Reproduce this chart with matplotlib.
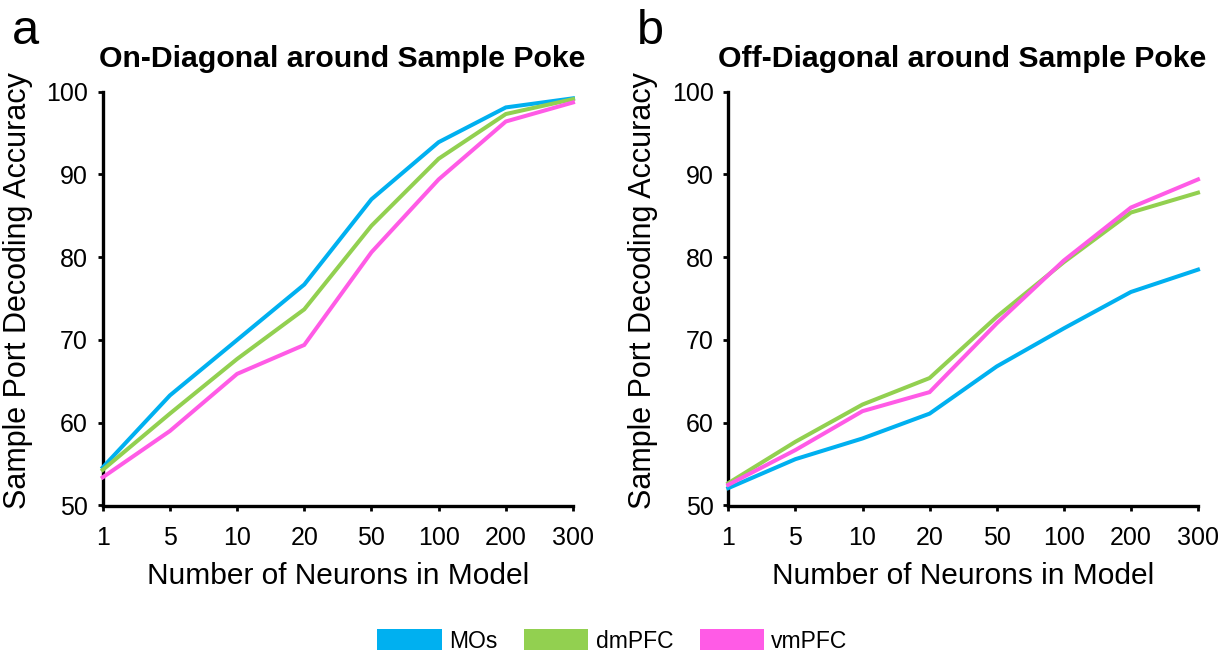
import matplotlib
matplotlib.use("Agg")
import matplotlib.pyplot as plt
from matplotlib.patches import Patch

plt.rcParams['font.family'] = ['Liberation Sans', 'DejaVu Sans']

neurons = ["1", "5", "10", "20", "50", "100", "200", "300"]
regions = ["MOs", "dmPFC", "vmPFC"]
colors = {"MOs": "#00B0F0", "dmPFC": "#92D050", "vmPFC": "#FF5BE6"}

on_mos = [54.6, 63.3, 70.0, 76.7, 87.0, 93.9, 98.1, 99.2]
on_dm = [54.3, 61.1, 67.7, 73.7, 83.8, 91.9, 97.3, 99.1]
on_vm = [53.4, 59.0, 65.9, 69.4, 80.6, 89.4, 96.4, 98.7]

off_mos = [52.1, 55.6, 58.1, 61.1, 66.8, 71.4, 75.8, 78.5]
off_dm = [52.7, 57.7, 62.2, 65.4, 72.8, 79.4, 85.4, 87.8]
off_vm = [52.5, 56.7, 61.4, 63.7, 72.0, 79.6, 86.0, 89.4]

yticks = [50, 60, 70, 80, 90, 100]

W, H = 1225, 653
fig = plt.figure(figsize=(W / 100, H / 100), dpi=100)

def px_axes(x0, x1, ytop, ybot):
    return fig.add_axes([x0 / W, 1 - ybot / H, (x1 - x0) / W, (ybot - ytop) / H])

panels = [
    dict(ax=px_axes(102.7, 573, 91.7, 505.5), data=[on_mos, on_dm, on_vm],
         title="On-Diagonal around Sample Poke", tx=342, letter="a", lx=12),
    dict(ax=px_axes(728.3, 1198, 91.7, 505.5), data=[off_mos, off_dm, off_vm],
         title="Off-Diagonal around Sample Poke", tx=962, letter="b", lx=637),
]

x = list(range(len(neurons)))
for p in panels:
    ax = p["ax"]
    for reg, vals in zip(regions, p["data"]):
        ax.plot(x, vals, color=colors[reg], lw=2.9, solid_joinstyle='miter', clip_on=False, zorder=3)
    ax.set_xlim(0, len(neurons) - 1)
    ax.set_ylim(50, 100)
    ax.set_xticks(x)
    ax.set_xticklabels(neurons)
    ax.set_yticks(yticks)
    ax.tick_params(axis='both', direction='out', length=3.5, width=2.0, labelsize=18, color='black')
    ax.tick_params(axis='y', pad=7)
    ax.tick_params(axis='x', pad=11.5)
    for s in ['top', 'right']:
        ax.spines[s].set_visible(False)
    for s in ['left', 'bottom']:
        ax.spines[s].set_linewidth(2.4)
        ax.spines[s].set_color('black')
    ax.set_xlabel("Number of Neurons in Model", fontsize=21.5, labelpad=8.5)
    ax.set_ylabel("Sample Port Decoding Accuracy", fontsize=22)
    ax.yaxis.set_label_coords(-0.149, 0.52)
    fig.text(p["tx"] / W, 1 - 67 / H, p["title"], fontsize=21.8, fontweight='bold',
             ha='center', va='baseline')
    fig.text(p["lx"] / W, 1 - 44 / H, p["letter"], fontsize=35, ha='left', va='baseline')

handles = [Patch(facecolor=colors[r], edgecolor='none', label=r) for r in regions]
fig.legend(handles=handles, loc='center', bbox_to_anchor=(0.5, 1 - 641 / H), ncol=3,
           frameon=False, fontsize=16.5, handlelength=2.8, handleheight=1.0,
           handletextpad=0.33, columnspacing=1.15, borderpad=0, borderaxespad=0)

fig.savefig("out.png", dpi=100)
